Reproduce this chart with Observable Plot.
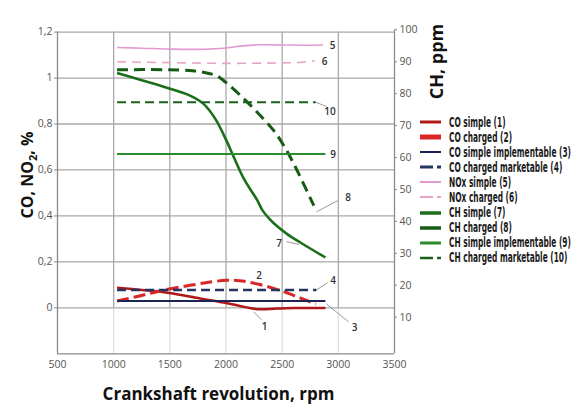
<!DOCTYPE html>
<html><head><meta charset="utf-8">
<script src="https://cdn.jsdelivr.net/npm/d3@7"></script>
<script src="https://cdn.jsdelivr.net/npm/@observablehq/plot@0.6"></script>
<style>
html,body{margin:0;padding:0;background:#fff;}
#wrap{position:relative;width:579px;height:405px;overflow:hidden;background:#fff;}
#wrap > svg{position:absolute;left:0;top:0;}
#border{position:absolute;left:14px;top:8px;width:0;height:400px;border-left:1px solid #c8c8c8;}
#legend{position:absolute;left:420px;top:114.8px;font-family:"Liberation Sans Narrow","Arial Narrow","DejaVu Sans",sans-serif;font-stretch:condensed;font-size:14.5px;font-weight:600;color:#1a1a1a;}
.row{height:15.04px;display:flex;align-items:center;white-space:nowrap;}
.row svg{width:22px;height:8px;margin-right:7.3px;flex:none;}
.row span{display:inline-block;transform-origin:left center;line-height:15px;}
</style></head><body><div id="wrap"><div id="border"></div></div>
<script>
// ---- data ----
const xTicks = [500, 1000, 1500, 2000, 2500, 3000, 3500];
const leftTicks = [0, 0.2, 0.4, 0.6, 0.8, 1, 1.2];
const chTicks = [10, 20, 30, 40, 50, 60, 70, 80, 90, 100];

// CO and NOx in % (left axis), [rpm, value]
const coSimple = [[1030,0.088],[1250,0.078],[1480,0.066],[1770,0.041],[1980,0.023],[2115,0.009],[2280,-0.006],[2450,-0.003],[2600,-0.001],[2885,-0.001]];
const coCharged = [[1030,0.030],[1240,0.053],[1450,0.078],[1680,0.098],[1860,0.112],[2000,0.120],[2120,0.118],[2280,0.104],[2485,0.075],[2665,0.042],[2800,0.017]];
const coSimpleImpl = [[1030,0.030],[2885,0.030]];
const coChargedMkt = [[1030,0.078],[2805,0.078]];
const noxSimple = [[1030,1.133],[1250,1.130],[1500,1.126],[1750,1.125],[2000,1.131],[2150,1.140],[2300,1.145],[2500,1.144],[2700,1.143],[2865,1.144]];
const noxCharged = [[1030,1.071],[1500,1.067],[2000,1.064],[2500,1.066],[2650,1.068],[2790,1.075]];
// CH in ppm (right axis), [rpm, ppm]
const chSimple = [[1030,86.5],[1250,84.2],[1480,81.8],[1680,79.4],[1800,76.8],[1905,72.1],[2000,65.6],[2070,60.1],[2160,53.3],[2280,46.5],[2322,43.6],[2381,41.0],[2425,39.4],[2545,36.0],[2665,33.3],[2885,28.7]];
const chCharged = [[1030,87.5],[1450,87.5],[1700,87.2],[1850,86.3],[1922,85.5],[1996,83.6],[2159,78.4],[2307,73.1],[2426,68.4],[2515,63.7],[2589,59.0],[2678,52.7],[2782,44.9]];
const chSimpleImpl = [[1030,61.1],[2885,61.1]];
const chChargedMkt = [[1030,77.3],[2800,77.3]];

const seriesNames = ["CO simple (1)","CO charged (2)","CO simple implementable (3)","CO charged marketable (4)","NOx simple (5)","NOx charged (6)","CH simple (7)","CH charged (8)","CH simple implementable (9)","CH charged marketable (10)"];

// curve number annotations [rpm, %]
const annText = ["5","6","10","9","8","7","2","4","1","3"];
const annRpm  = [2948,2877,2926,2953,3086,2472,2294,2953,2343,3144];
const annVal  = [1.142,1.072,0.854,0.665,0.481,0.278,0.139,0.118,-0.083,-0.086];
// leader lines [rpm1, val1, rpm2, val2]
const leaders = [[2797,0.895,2895,0.876],[2806,0.418,2993,0.466],[2540,0.288,2650,0.276],[2806,0.078,2904,0.109],[2245,-0.017,2316,-0.052],[2895,0.017,3091,-0.061]];

// ---- mapping of right axis (ppm) onto left axis (%) ----
const chToLeft = p => -0.1795 + 0.013895 * p;
const leftToCh = v => Math.round((v + 0.1795) / 0.013895);

// ---- styles ----
const styles = [
  {stroke:"#b01818", w:2.5, dash:null, lw:3, ldash:null},
  {stroke:"#d92626", w:3, dash:"12,5", lw:5, ldash:null},
  {stroke:"#1c2455", w:2, dash:null, lw:2, ldash:null},
  {stroke:"#26355f", w:2.5, dash:"9,5", lw:3, ldash:"13,4,4,4"},
  {stroke:"#e39ad0", w:1.6, dash:null, lw:2, ldash:null},
  {stroke:"#e8a3c8", w:1.6, dash:"9,6", lw:2, ldash:"13,4,4,4"},
  {stroke:"#1b6f1b", w:2.6, dash:null, lw:3.5, ldash:null},
  {stroke:"#165c16", w:3, dash:"11,6", lw:3.5, ldash:null},
  {stroke:"#2b8c2b", w:2, dash:null, lw:3, ldash:null},
  {stroke:"#1c5e1c", w:2, dash:"9,5", lw:2.5, ldash:"13,4,4,4"}
];

const allSeries = [
  coSimple, coCharged, coSimpleImpl, coChargedMkt, noxSimple, noxCharged,
  chSimple.map(([r,p]) => [r, chToLeft(p)]),
  chCharged.map(([r,p]) => [r, chToLeft(p)]),
  chSimpleImpl.map(([r,p]) => [r, chToLeft(p)]),
  chChargedMkt.map(([r,p]) => [r, chToLeft(p)])
];

const lineMarks = allSeries.map((s, i) => Plot.line(s, {
  x: d => d[0], y: d => d[1], stroke: styles[i].stroke, strokeWidth: styles[i].w,
  strokeDasharray: styles[i].dash || undefined, curve: "catmull-rom", strokeLinecap: "butt"
}));

const innerX = xTicks.slice(1, -1);
const annotations = annText.map((t, i) => ({t, x: annRpm[i], y: annVal[i]}));

const chart = Plot.plot({
  width: 579, height: 405,
  marginLeft: 57, marginRight: 185, marginTop: 31.6, marginBottom: 51.7,
  x: {domain: [500, 3500]},
  y: {domain: [-0.2, 1.2]},
  style: {fontFamily: "'Open Sans', sans-serif", fontSize: "10.5px", color: "#555", background: "white", overflow: "visible"},
  marks: [
    Plot.ruleX(innerX, {y1: -0.2, y2: 0, stroke: "#dedede", strokeWidth: 1.2}),
    Plot.ruleX(innerX, {y1: 0, y2: 1.2, stroke: "#a8a8a8", strokeWidth: 1.3}),
    Plot.ruleY(leftTicks, {stroke: "#a8a8a8", strokeWidth: 1.3}),
    Plot.ruleX([500, 3500], {y1: -0.2, y2: 1.2, stroke: "#8a8a8a", strokeWidth: 1.3}),
    Plot.ruleX([3500], {y1: 1.2, y2: chToLeft(100), stroke: "#8a8a8a", strokeWidth: 1.3}),
    Plot.ruleY([-0.2], {stroke: "#8a8a8a", strokeWidth: 1.3}),
    Plot.axisX(xTicks, {tickSize: 0, tickPadding: 7, label: null, fill: "#555", tickFormat: d => String(d)}),
    Plot.axisY(leftTicks, {anchor: "left", tickSize: 3, tickPadding: 2, label: null,
      tickFormat: d => String(d).replace(".", ","), fill: "#555", stroke: "#8a8a8a"}),
    Plot.axisY(chTicks.map(chToLeft), {anchor: "right", tickSize: 2, tickPadding: 3, label: null,
      tickFormat: d => String(leftToCh(d)), fill: "#555", stroke: "#8a8a8a"}),
    ...lineMarks,
    Plot.link(leaders, {x1: d => d[0], y1: d => d[1], x2: d => d[2], y2: d => d[3], stroke: "#8c8c8c", strokeWidth: 0.9}),
    Plot.text(annotations, {x: "x", y: "y", text: "t", fill: "#333", fontSize: 10, fontWeight: 600})
  ]
});

const wrap = document.getElementById("wrap");
wrap.appendChild(chart);

// axis titles (overlay)
const ov = d3.select(wrap).append("svg").attr("width", 579).attr("height", 405)
  .style("position", "absolute").style("left", 0).style("top", 0).style("pointer-events", "none")
  .style("font-family", "'Open Sans', sans-serif").style("font-weight", 700).style("fill", "#111");
const yt = ov.append("text").attr("transform", "translate(33,175) rotate(-90)").attr("text-anchor", "middle")
  .style("font-size", "16px");
yt.append("tspan").text("CO, NO");
yt.append("tspan").attr("dy", 4).style("font-size", "11px").text("2");
yt.append("tspan").attr("dy", -4).text(", %");
ov.append("text").attr("transform", "translate(443,61.5) rotate(-90)").attr("text-anchor", "middle")
  .style("font-size", "18px").text("CH, ppm");
ov.append("text").attr("x", 218.5).attr("y", 400).attr("text-anchor", "middle")
  .style("font-size", "17px").text("Crankshaft revolution, rpm");

// legend
const leg = d3.select(wrap).append("div").attr("id", "legend");
const spans = [];
seriesNames.forEach((name, i) => {
  const row = leg.append("div").attr("class", "row");
  const sw = row.append("svg").attr("viewBox", "0 0 22 8");
  sw.append("line").attr("x1", 0).attr("x2", 21).attr("y1", 4).attr("y2", 4)
    .attr("stroke", styles[i].stroke).attr("stroke-width", styles[i].lw)
    .attr("stroke-dasharray", styles[i].ldash);
  spans.push(row.append("span").text(name).node());
});
const widest = Math.max(...spans.map(s => s.getBoundingClientRect().width));
const sc = 122 / widest;
spans.forEach(s => s.style.transform = `scaleX(${sc})`);
</script>
</body></html>
